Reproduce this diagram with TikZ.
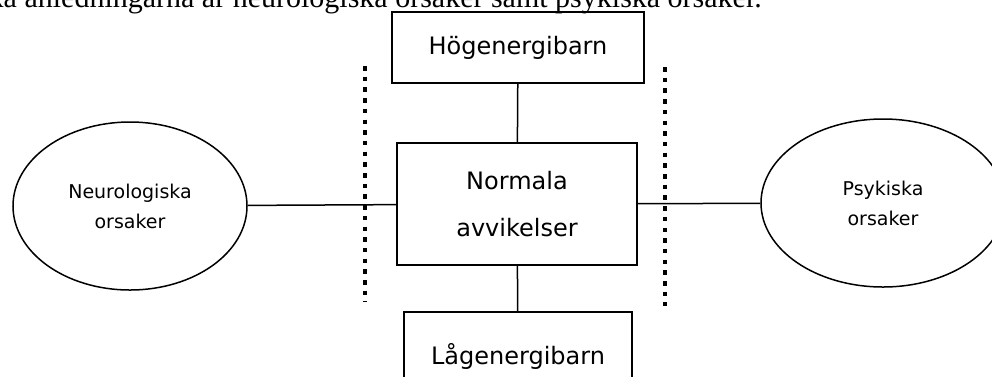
\documentclass[tikz,border=0pt]{standalone}
\usepackage{fontspec}
\setmainfont{DejaVu Sans}
\newfontfamily\bodyfont{Liberation Serif}
\usetikzlibrary{shapes.geometric,positioning}

\begin{document}
\begin{tikzpicture}[x=1pt,y=-1pt,
    box/.style={draw, line width=1.8pt, inner sep=0pt, align=center, font=\fontsize{24}{47}\selectfont},
    oval/.style={ellipse, draw, line width=1.5pt, inner sep=0pt, align=center, font=\fontsize{19}{30}\selectfont},
    link/.style={line width=1.5pt},
    divider/.style={line width=4.5pt, dash pattern=on 4.5pt off 6.2pt}]
\useasboundingbox (0,0) rectangle (992,376);
\clip (0,0) rectangle (992,376);

% cut-off line of the running text above the figure
\node[anchor=base east, inner sep=0pt, font=\bodyfont\fontsize{30}{33}\selectfont] (intro) at (762,7)
    {ika anledningarna är neurologiska orsaker samt psykiska orsaker.};

\node[box, minimum width=252pt, minimum height=71pt] (hog) at (518,47.5) {Högenergibarn};
\node[box, minimum width=240pt, minimum height=122pt] (norm) at (517,204) {Normala\\avvikelser};
\node[box, minimum width=228pt, minimum height=88pt] (lag) at (518,356) {Lågenergibarn};
\node[oval, minimum width=234pt, minimum height=168pt] (neuro) at (130,206) {Neurologiska\\orsaker};
\node[oval, minimum width=244pt, minimum height=168pt] (psyk) at (883,203) {Psykiska\\orsaker};

\draw[link] (hog) -- (norm);
\draw[link] (norm) -- (lag);
\draw[link] (neuro) -- (norm);
\draw[link] (norm) -- (psyk);

\draw[divider] (365,66) -- (365,302);
\draw[divider] (665,67) -- (665,306);
\end{tikzpicture}
\end{document}
